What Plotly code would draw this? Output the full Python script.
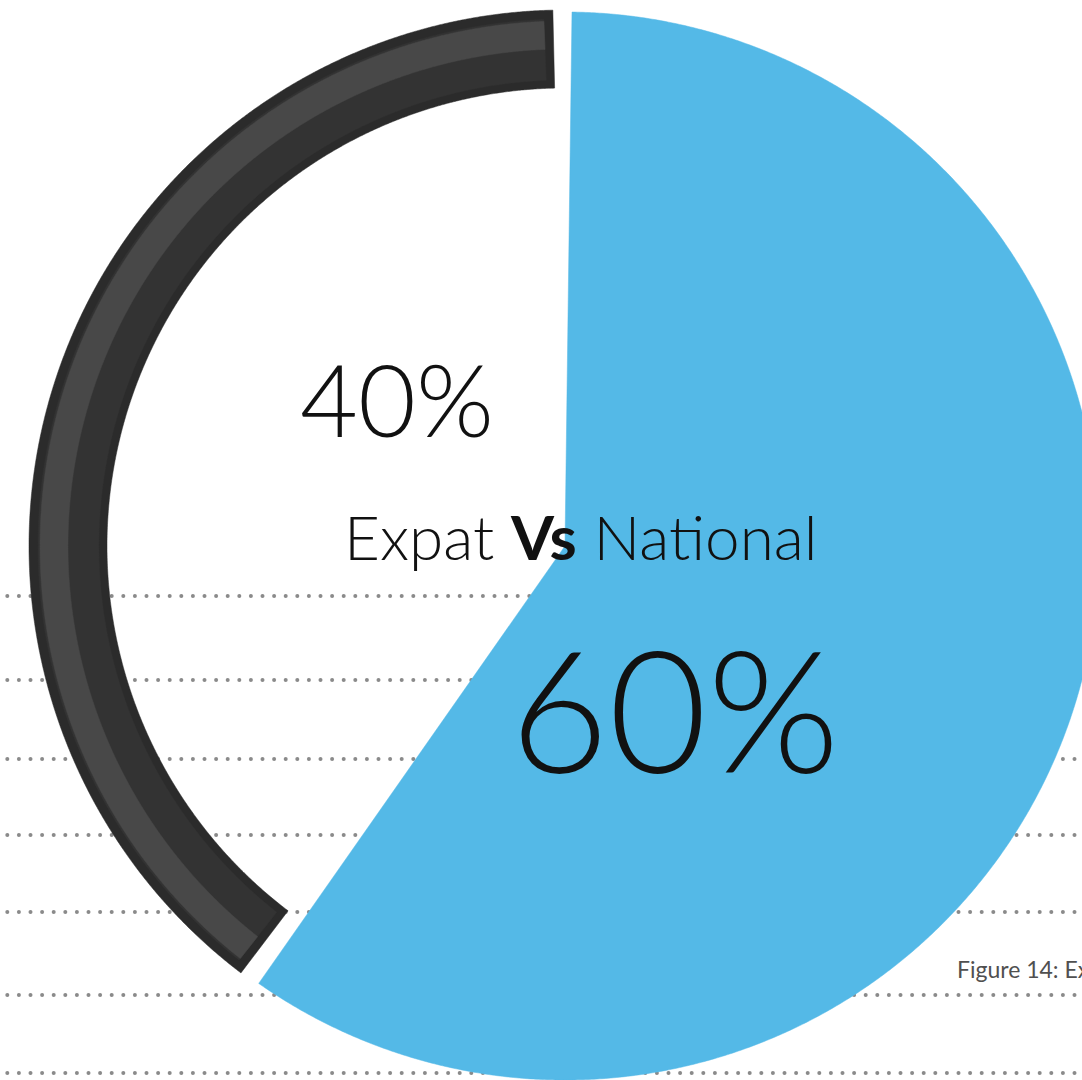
import numpy as np
import plotly.graph_objects as go

# ---- data ----
labels = ["National", "Expat"]
values = [60, 40]
pct_labels = ["60%", "40%"]
title_text = "Expat <b>Vs</b> National"
caption = "Figure 14: Expat Vs National"
grid_rows = [596, 680, 759, 835, 912, 995, 1073]

W, H = 1082, 1080
CX, CY = 565, 546
R_OUT = 535
R_IN = 458

BLUE = "#54B9E7"
BORDER = "#2b2b2b"
DARK = "#333333"
LIGHT = "#484848"


def arc(r, a0, a1, n=720):
    a = np.radians(np.linspace(a0, a1, n))
    return CX + r * np.sin(a), CY - r * np.cos(a)


def ring(r_out, r_in, a0, a1):
    xo, yo = arc(r_out, a0, a1)
    xi, yi = arc(r_in, a1, a0)
    x = np.concatenate([xo, xi, xo[:1]])
    y = np.concatenate([yo, yi, yo[:1]])
    return x, y


def poly(x, y, color):
    return go.Scatter(x=x, y=y, fill="toself", fillcolor=color, mode="lines",
                      line=dict(width=0.5, color=color, simplify=False, shape="linear"),
                      hoverinfo="skip", showlegend=False)


total = sum(values)
span_nat = 360.0 * values[0] / total
nat_a0, nat_a1 = 0.0, span_nat
exp_a0, exp_a1 = span_nat, 360.0

fig = go.Figure()

# dotted background rows
dx = np.arange(7.3, W + 5, 11.6)
for yy in grid_rows:
    fig.add_trace(go.Scatter(x=dx, y=[yy] * len(dx), mode="markers",
                             marker=dict(size=4, color="#8a8a8a", line=dict(width=0)),
                             hoverinfo="skip", showlegend=False))

# Expat ring (dark)
x, y = ring(R_OUT + 1, R_IN, exp_a0 + 1.2, exp_a1 - 1.3)
fig.add_trace(poly(x, y, BORDER))
x, y = ring(R_OUT - 8, R_IN + 8, exp_a0 + 2.2, exp_a1 - 2.3)
fig.add_trace(poly(x, y, DARK))
x, y = ring(R_OUT - 10, 497, exp_a0 + 2.2, exp_a1 - 2.3)
fig.add_trace(poly(x, y, LIGHT))

# National wedge (blue)
ax, ay = arc(R_OUT - 1, nat_a0 + 0.75, nat_a1 - 1.0)
x = np.concatenate([[CX], ax, [CX]])
y = np.concatenate([[CY], ay, [CY]])
fig.add_trace(poly(x, y, BLUE))

FONT = "Lato"
fig.add_annotation(x=397, y=398, xref="x", yref="y", text=pct_labels[1], showarrow=False,
                   font=dict(family=FONT, size=100, color="#111111", weight=300),
                   xanchor="center", yanchor="middle")
fig.add_annotation(x=580, y=536, xref="x", yref="y", text=title_text, showarrow=False,
                   font=dict(family=FONT, size=62, color="#111111", weight=300),
                   xanchor="center", yanchor="middle")
fig.add_annotation(x=675, y=707, xref="x", yref="y", text=pct_labels[0], showarrow=False,
                   font=dict(family=FONT, size=170, color="#111111", weight=300),
                   xanchor="center", yanchor="middle")
fig.add_annotation(x=955, y=969, xref="x", yref="y", text=caption, showarrow=False,
                   font=dict(family=FONT, size=23, color="#505050", weight=400),
                   xanchor="left", yanchor="middle")

fig.update_layout(
    width=W, height=H,
    margin=dict(l=0, r=0, t=0, b=0),
    paper_bgcolor="white", plot_bgcolor="white",
    xaxis=dict(range=[0, W], visible=False, fixedrange=True),
    yaxis=dict(range=[H, 0], visible=False, fixedrange=True),
    showlegend=False,
)

fig.write_html("out.html")
